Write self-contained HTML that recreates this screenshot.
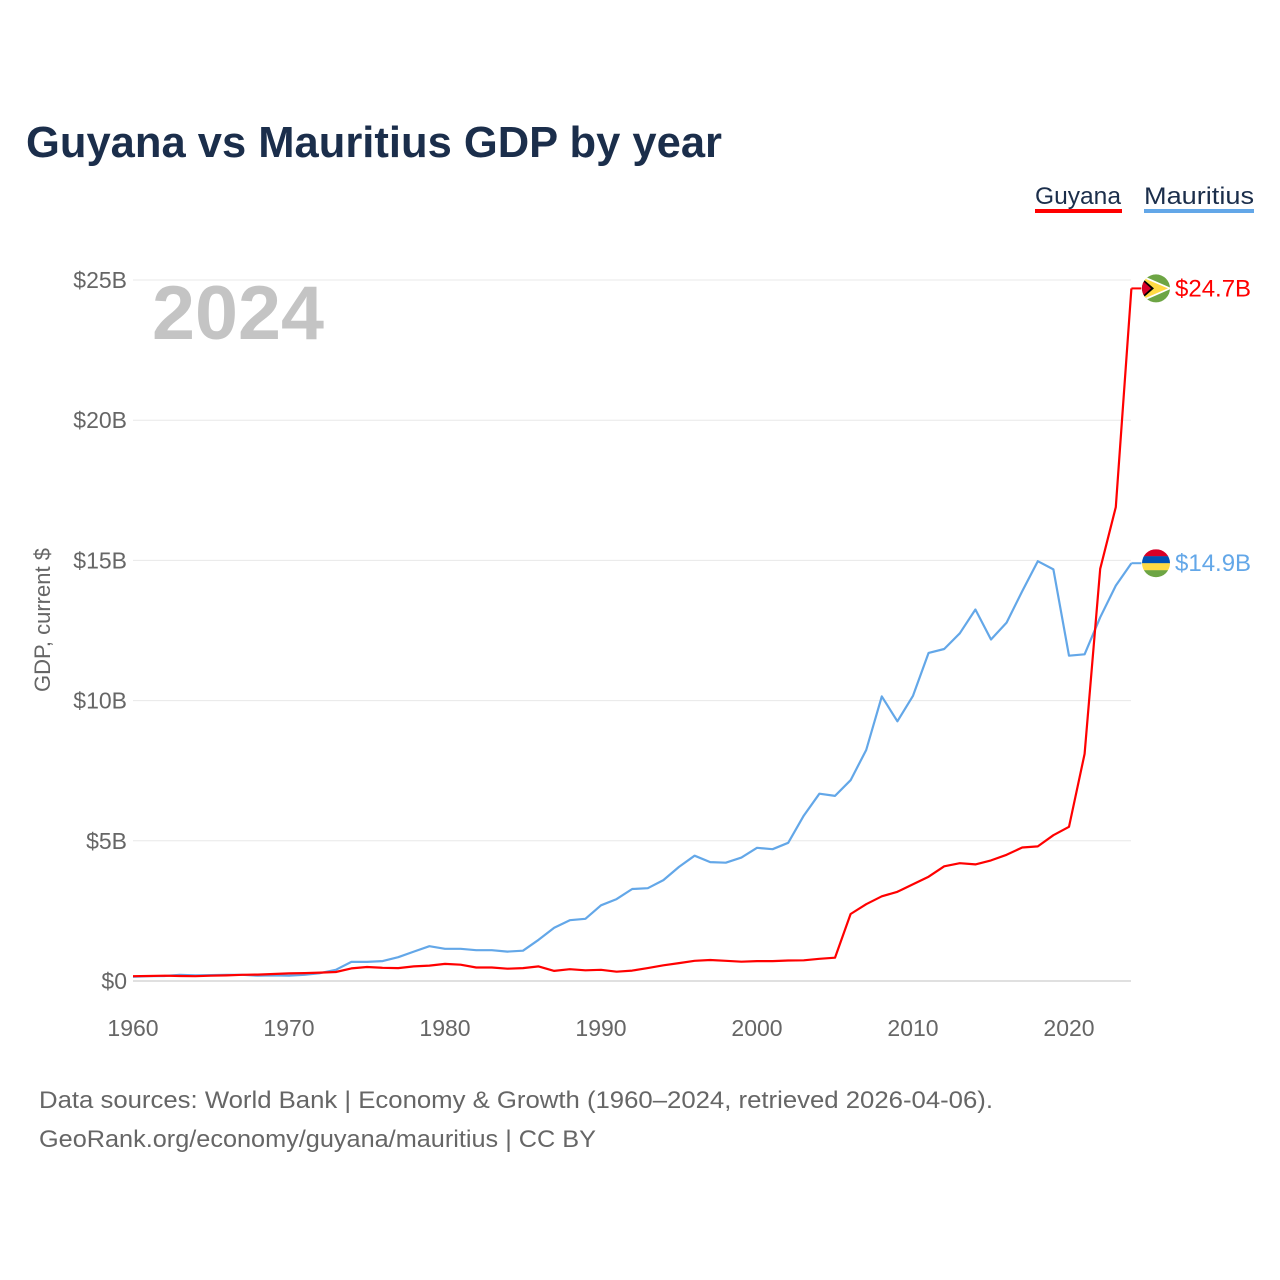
<!DOCTYPE html>
<html><head><meta charset="utf-8">
<style>
body{margin:0;background:#fff;font-family:"Liberation Sans",sans-serif;}
#wrap{position:relative;width:1280px;height:1280px;overflow:hidden;}
</style></head>
<body>
<div id="wrap">
<svg id="chart" width="1280" height="1280">
  <text x="26" y="157" font-size="44" font-weight="bold" fill="#1b2e4b" textLength="696" lengthAdjust="spacingAndGlyphs">Guyana vs Mauritius GDP by year</text>
  <g>
    <text x="1035" y="204" font-size="24" fill="#1b2e4b" textLength="86" lengthAdjust="spacingAndGlyphs">Guyana</text>
    <rect x="1035" y="209" width="87" height="4" fill="#ff0000"/>
    <text x="1144" y="204" font-size="24" fill="#1b2e4b" textLength="110" lengthAdjust="spacingAndGlyphs">Mauritius</text>
    <rect x="1144" y="209" width="110" height="4" fill="#63a7e8"/>
  </g>
  <text x="152" y="339" font-size="76" font-weight="bold" fill="#c4c4c4" textLength="172" lengthAdjust="spacingAndGlyphs">2024</text>
  <text transform="translate(50,620) rotate(-90)" text-anchor="middle" font-size="22" fill="#666">GDP, current $</text>
  <g id="grid"></g>
  <g id="lines"></g>
  <g id="ends"></g>
  <text x="39" y="1108" font-size="24" fill="#666" textLength="954" lengthAdjust="spacingAndGlyphs">Data sources: World Bank | Economy &amp; Growth (1960–2024, retrieved 2026-04-06).</text>
  <text x="39" y="1147" font-size="24" fill="#666" textLength="557" lengthAdjust="spacingAndGlyphs">GeoRank.org/economy/guyana/mauritius | CC BY</text>
</svg>
</div>
<script>
const years = [];
for (let y = 1960; y <= 2024; y++) years.push(y);
const mauritius = [0.15,0.17,0.18,0.22,0.2,0.21,0.22,0.22,0.19,0.2,0.19,0.22,0.28,0.4,0.68,0.68,0.71,0.85,1.05,1.24,1.15,1.15,1.1,1.1,1.05,1.08,1.47,1.9,2.17,2.22,2.7,2.92,3.28,3.31,3.6,4.07,4.47,4.24,4.22,4.4,4.75,4.7,4.93,5.9,6.68,6.6,7.16,8.24,10.15,9.26,10.17,11.7,11.84,12.4,13.25,12.18,12.78,13.9,14.97,14.68,11.6,11.65,12.97,14.1,14.9];
const guyana = [0.17,0.18,0.19,0.18,0.17,0.19,0.2,0.22,0.23,0.25,0.27,0.28,0.3,0.32,0.45,0.5,0.47,0.46,0.52,0.55,0.61,0.58,0.48,0.48,0.44,0.46,0.52,0.36,0.42,0.38,0.4,0.33,0.37,0.46,0.56,0.64,0.72,0.75,0.72,0.69,0.71,0.71,0.73,0.74,0.79,0.83,2.39,2.74,3.02,3.18,3.45,3.72,4.09,4.2,4.16,4.3,4.5,4.76,4.8,5.2,5.5,8.1,14.7,16.9,24.7];
const yTicks = [0,5,10,15,20,25];
const yTickLabels = ["$0","$5B","$10B","$15B","$20B","$25B"];
const xTicks = [1960,1970,1980,1990,2000,2010,2020];
const endLabels = ["$24.7B","$14.9B"];

const NS = "http://www.w3.org/2000/svg";
const xS = yr => 133 + (yr - 1960) * 15.6;
const yS = v => 981 - v * 28.04;
function mk(tag, attrs, parent){const e=document.createElementNS(NS,tag);for(const k in attrs)e.setAttribute(k,attrs[k]);parent.appendChild(e);return e;}
const grid = document.getElementById('grid');
yTicks.forEach((t,i)=>{
  const l = mk('line',{x1:133,x2:1131,y1:yS(t),y2:yS(t),stroke:t===0?'#e0e0e0':'#e8e8e8','stroke-width':t===0?2:1},grid);
  
  
  const tx = mk('text',{x:127,y:yS(t)+8,'text-anchor':'end','font-size':23,fill:'#666'},grid);
  tx.textContent = yTickLabels[i];
  
  
});
xTicks.forEach(t=>{
  const tx = mk('text',{x:xS(t),y:1036,'text-anchor':'middle','font-size':23,fill:'#666'},grid);
  tx.textContent = t;
  
  
});
const lines = document.getElementById('lines');
function path(vals,color,name){
  const d = vals.map((v,i)=>(i?'L':'M')+xS(years[i]).toFixed(1)+','+yS(v).toFixed(1)).join('');
  const p = mk('path',{d:d,fill:'none',stroke:color,'stroke-width':2.2,'stroke-linejoin':'round'},lines);
  
  
}
path(mauritius,'#63a7e8','mauritius-line');
path(guyana,'#ff0000','guyana-line');

const ends = document.getElementById('ends');
function endMark(val,color,label,name,flag){
  const x = xS(years[years.length-1]), y = yS(val);
  mk('line',{x1:x,x2:x+10,y1:y,y2:y,stroke:color,'stroke-width':2},ends);
  const g = mk('g',{},ends);
  
  
  const cid = name+'clip';
  const cp = mk('clipPath',{id:cid},g); mk('circle',{cx:1156,cy:y,r:14},cp);
  const gg = mk('g',{'clip-path':'url(#'+cid+')'},g);
  flag(gg,y);
  const t = mk('text',{x:1175,y:y+8,'font-size':24,fill:color},ends);
  t.textContent = label;
  
  
}
endMark(guyana[guyana.length-1],'#ff0000',endLabels[0],'guyana',(g,y)=>{
  mk('rect',{x:1140,y:y-15,width:32,height:30,fill:'#6da544'},g);
  mk('polygon',{points:`1140,${y-14} 1172,${y} 1140,${y+14}`,fill:'#fff'},g);
  mk('polygon',{points:`1140,${y-12} 1168,${y} 1140,${y+12}`,fill:'#ffda44'},g);
  mk('polygon',{points:`1140,${y-12} 1154,${y} 1140,${y+12}`,fill:'#000'},g);
  mk('polygon',{points:`1140,${y-10} 1151,${y} 1140,${y+10}`,fill:'#d80027'},g);
});
endMark(mauritius[mauritius.length-1],'#63a7e8',endLabels[1],'mauritius',(g,y)=>{
  const c=['#d80027','#0052b4','#ffda44','#6da544'];
  c.forEach((col,i)=>mk('rect',{x:1140,y:y-14+i*7,width:32,height:7.2,fill:col},g));
});
</script>
</body></html>
